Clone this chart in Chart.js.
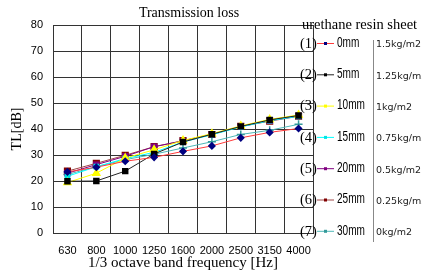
<!DOCTYPE html>
<html><head><meta charset="utf-8">
<script src="https://cdn.jsdelivr.net/npm/chart.js@4/dist/chart.umd.min.js"></script>
<style>html,body{margin:0;padding:0;background:#fff;}#wrap{width:422px;height:271px;position:relative;}</style>
</head><body><div id="wrap"><canvas id="c" width="422" height="271"></canvas></div>
<script>
const categories = ["630","800","1000","1250","1600","2000","2500","3150","4000"];
const seriesNames = ["0mm","5mm","10mm","15mm","20mm","25mm","30mm"];
const seriesMass = ["1.5kg/m2","1.25kg/m2","1kg/m2","0.75kg/m2","0.5kg/m2","0.25kg/m2","0kg/m2"];
const s0mm  = [23.5, 25.3, 27.6, 29.1, 31.4, 33.5, 36.6, 38.7, 40.2];
const s5mm  = [19.9, 20.0, 23.8, 30.4, 35.0, 38.0, 41.0, 43.5, 45.2];
const s10mm = [19.4, 23.0, 28.8, 32.0, 35.6, 38.2, 41.2, 43.7, 45.4];
const s15mm = [21.8, 25.5, 28.6, 31.0, 35.0, 37.8, 40.8, 43.2, 44.9];
const s20mm = [23.0, 26.3, 29.5, 33.2, 35.4, 38.0, 40.9, 43.3, 45.0];
const s25mm = [23.8, 26.8, 29.9, 33.2, 35.5, 37.9, 41.0, 43.0, 44.9];
const s30mm = [22.5, 25.5, 28.2, 30.3, 32.7, 35.1, 37.9, 39.5, 41.8];
const yTicks = [0,10,20,30,40,50,60,70,80];

const styles = [
  {line:'#ff3b3b', pt:'#000080', ps:'rectRot', r:3},
  {line:'#222222', pt:'#000000', ps:'rect', r:3.5},
  {line:'#ffff00', pt:'#ffff00', ps:'triangle', r:4},
  {line:'#00ffff', pt:'#00e5e5', ps:'rect', r:3},
  {line:'#800080', pt:'#800080', ps:'rect', r:3.5},
  {line:'#a04848', pt:'#800000', ps:'rect', r:4},
  {line:'#4fb8b8', pt:'#339999', ps:'cross', r:4}
];
const values = [s0mm,s5mm,s10mm,s15mm,s20mm,s25mm,s30mm];
const datasets = values.map((v,i)=>({
  label: seriesNames[i], data: v,
  borderColor: styles[i].line, backgroundColor: styles[i].pt,
  pointBackgroundColor: styles[i].pt, pointBorderColor: styles[i].pt,
  pointStyle: styles[i].ps, pointRadius: styles[i].r, pointBorderWidth: 1.5,
  borderWidth: 1, tension: 0
}));

const overlay = {
  id:'overlay',
  afterDraw(chart){
    const ctx = chart.ctx;
    ctx.save();
    ctx.fillStyle = '#000';
    ctx.textBaseline = 'middle';
    ctx.textAlign = 'center';
    ctx.font = '14px "Liberation Serif", serif';
    ctx.fillText('Transmission loss', 189, 13);
    ctx.textAlign = 'left';
    ctx.font = '14.5px "Liberation Serif", serif';
    ctx.fillText('urethane resin sheet', 302, 25);
    ctx.strokeStyle = '#888';
    ctx.lineWidth = 1;
    ctx.beginPath(); ctx.moveTo(373.5, 40); ctx.lineTo(373.5, 242); ctx.stroke();
    for (let i=0;i<7;i++){
      const y = 43 + i*31.3;
      ctx.fillStyle = '#000';
      ctx.font = '14.5px "Liberation Serif", serif';
      ctx.fillText('(' + (i+1) + ')', 300, y+1);
      ctx.strokeStyle = styles[i].line;
      ctx.lineWidth = 1;
      ctx.beginPath(); ctx.moveTo(317, y+0.5); ctx.lineTo(334, y+0.5); ctx.stroke();
      ctx.fillStyle = styles[i].pt;
      ctx.fillRect(324, y-1, 3, 3);
      ctx.fillStyle = '#000';
      ctx.save();
      ctx.translate(337, y);
      ctx.scale(0.72, 1);
      ctx.font = '14px "Liberation Sans", sans-serif';
      ctx.fillText(seriesNames[i], 0, 0);
      ctx.restore();
      ctx.fillStyle = '#222';
      ctx.font = '9.5px "DejaVu Sans", sans-serif';
      ctx.fillText(seriesMass[i], 376, y+2);
    }
    ctx.restore();
  }
};

new Chart(document.getElementById('c'), {
  type:'line',
  data:{labels:categories, datasets},
  options:{
    responsive:false, animation:false, devicePixelRatio:1,
    layout:{padding:{left:0,right:109,top:25,bottom:0}},
    plugins:{legend:{display:false}, title:{display:false}, tooltip:{enabled:false}},
    scales:{
      x:{
        offset:true,
        grid:{offset:true, color:'#333', lineWidth:1, drawTicks:false},
        border:{color:'#333'},
        ticks:{color:'#000', font:{family:'"Liberation Sans", Arial, sans-serif', size:11}, padding:11, maxRotation:0, autoSkip:false},
        title:{display:true, text:'1/3 octave band frequency [Hz]', color:'#000', font:{family:'"Liberation Serif", serif', size:15}, padding:{top:0,bottom:-1}},
        afterFit(s){ s.height = 38; }
      },
      y:{
        min:0, max:80,
        afterBuildTicks(s){ s.ticks = yTicks.map(v=>({value:v})); },
        grid:{color:'#333', lineWidth:1, drawTicks:false},
        border:{color:'#333'},
        ticks:{color:'#000', font:{family:'"Liberation Sans", Arial, sans-serif', size:11}, padding:10},
        title:{display:true, text:'TL[dB]', color:'#000', font:{family:'"Liberation Serif", serif', size:14}, padding:{top:9,bottom:0}},
        afterFit(s){ s.width = 53; }
      }
    }
  },
  plugins:[overlay]
});
</script></body></html>
